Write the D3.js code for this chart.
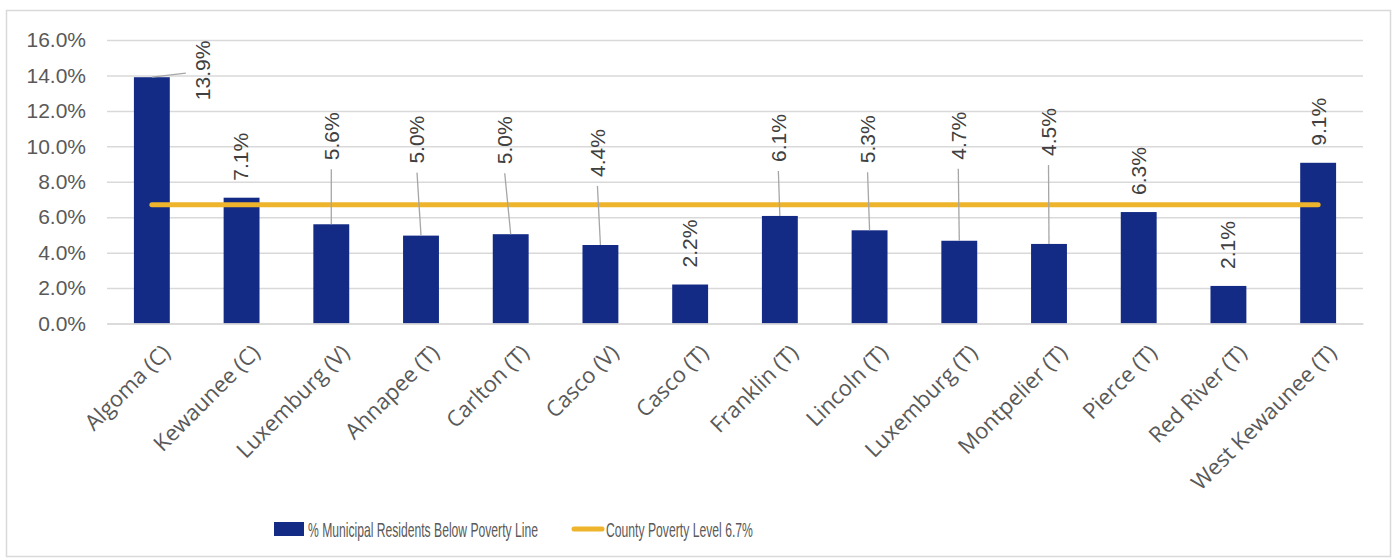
<!DOCTYPE html>
<html>
<head>
<meta charset="utf-8">
<script src="https://cdn.jsdelivr.net/npm/d3@7"></script>
<style>
  html, body { margin: 0; padding: 0; background: #fff; }
  svg { display: block; }
</style>
</head>
<body>
<div id="chart"></div>
<script>
    "use strict";

    // chart data
    var municipalities = ["Algoma (C)", "Kewaunee (C)", "Luxemburg (V)", "Ahnapee (T)", "Carlton (T)",
        "Casco (V)", "Casco (T)", "Franklin (T)", "Lincoln (T)", "Luxemburg (T)",
        "Montpelier (T)", "Pierce (T)", "Red River (T)", "West Kewaunee (T)"];
    var povertyPct = [13.9, 7.1, 5.6, 4.96, 5.04, 4.43, 2.2, 6.07, 5.26, 4.67, 4.49, 6.29, 2.12, 9.07];
    var countyLevel = 6.7;
    var yTicks = [0, 2, 4, 6, 8, 10, 12, 14, 16];
    var seriesNames = ["% Municipal Residents Below Poverty Line", "County Poverty Level 6.7%"];

    // manual data label nudges [dx, dy] in px, like the ones dragged in the original
    var labelNudge = [[51, 40], [-1, 0], [0, -47], [-4, -55], [-6, -53], [-3, -51], [-1, 0],
        [-1.5, -37], [-2, -50], [-1, -64], [-0.5, -71], [0, 0], [-1, 0], [0, 0]];

    var width = 1395,
        height = 560,
        plotLeft = 107, plotRight = 1363, plotTop = 40, plotBottom = 323.5;
    var barColor = "#142b86",
        lineColor = "#edb42c",
        textColor = "#595959",
        gridColor = "#d9d9d9";

    var svg = d3.select("#chart").append("svg")
        .attr("width", width)
        .attr("height", height);

    // chart border
    svg.append("rect")
        .attr("x", 6.5).attr("y", 10.5)
        .attr("width", 1384).attr("height", 546)
        .attr("fill", "#fff")
        .attr("stroke", gridColor)
        .attr("stroke-width", 1.5);

    var x = d3.scaleBand()
        .domain(municipalities)
        .range([plotLeft, plotRight])
        .paddingInner(0.6)
        .paddingOuter(0.3);
    var y = d3.scaleLinear()
        .domain([0, 16])
        .range([plotBottom, plotTop]);

    // gridlines
    svg.append("g")
        .attr("transform", "translate(" + plotLeft + ",0)")
        .call(d3.axisLeft(y).tickValues(yTicks).tickSize(-(plotRight - plotLeft)).tickFormat(""))
        .call(function (g) { g.select(".domain").remove(); })
        .selectAll("line")
        .attr("stroke", gridColor)
        .attr("stroke-width", 1.5);

    // y axis labels
    svg.append("g")
        .attr("transform", "translate(" + plotLeft + ",0)")
        .call(d3.axisLeft(y).tickValues(yTicks).tickSize(0).tickPadding(21)
            .tickFormat(function (d) { return d.toFixed(1) + "%"; }))
        .call(function (g) { g.select(".domain").remove(); })
        .selectAll("text")
        .attr("fill", textColor)
        .style("font-family", "'Liberation Sans', Arial, sans-serif")
        .style("font-size", "21px");

    // bars
    svg.append("g").selectAll("rect")
        .data(povertyPct)
        .enter()
        .append("rect")
        .attr("x", function (d, i) { return x(municipalities[i]); })
        .attr("y", function (d) { return y(d); })
        .attr("width", x.bandwidth())
        .attr("height", function (d) { return y(0) - y(d); })
        .attr("fill", barColor);

    // category axis
    var xAxis = svg.append("g")
        .attr("transform", "translate(0," + plotBottom + ")")
        .call(d3.axisBottom(x).tickSize(0));
    xAxis.select(".domain")
        .attr("stroke", gridColor)
        .attr("stroke-width", 1.5);
    xAxis.selectAll("text")
        .attr("fill", textColor)
        .style("font-family", "'Open Sans', Lato, sans-serif")
        .style("font-size", "22px")
        .style("text-anchor", "end")
        .attr("x", 0).attr("y", 0).attr("dy", "0.75em")
        .attr("transform", "translate(8,19) rotate(-45)");

    // county line
    var line = d3.line()
        .x(function (d) { return x(d) + x.bandwidth() / 2; })
        .y(function () { return y(countyLevel); });
    svg.append("path")
        .datum(municipalities)
        .attr("d", line)
        .attr("fill", "none")
        .attr("stroke", lineColor)
        .attr("stroke-width", 5)
        .attr("stroke-linecap", "round");

    // data labels + leader lines
    var labels = svg.append("g");
    povertyPct.forEach(function (d, i) {
        var cx = x(municipalities[i]) + x.bandwidth() / 2,
            barTop = y(d),
            lx = cx + labelNudge[i][0],
            lb = barTop - 17 + labelNudge[i][1];
        if (labelNudge[i][1] > 0) {
            labels.append("line")
                .attr("x1", cx).attr("y1", barTop)
                .attr("x2", lx - 17).attr("y2", barTop - 4)
                .attr("stroke", "#a6a6a6").attr("stroke-width", 1.3);
        } else if (labelNudge[i][1] < 0) {
            labels.append("line")
                .attr("x1", lx).attr("y1", lb + 9)
                .attr("x2", cx).attr("y2", barTop)
                .attr("stroke", "#a6a6a6").attr("stroke-width", 1.3);
        }
        labels.append("text")
            .attr("transform", "translate(" + lx + "," + lb + ") rotate(-90)")
            .attr("dy", "0.35em")
            .attr("fill", "#404040")
            .style("font-family", "'Liberation Sans', Arial, sans-serif")
            .style("font-size", "21px")
            .text(d.toFixed(1) + "%");
    });

    // legend (condensed text like the original, squeezed with scaleX)
    var legend = svg.append("g");
    legend.append("rect")
        .attr("x", 274).attr("y", 522)
        .attr("width", 30).attr("height", 14)
        .attr("fill", barColor);
    legend.append("line")
        .attr("x1", 574).attr("x2", 602)
        .attr("y1", 529).attr("y2", 529)
        .attr("stroke", lineColor)
        .attr("stroke-width", 5)
        .attr("stroke-linecap", "round");
    [[308, 230], [606, 147]].forEach(function (p, i) {
        var t = legend.append("text")
            .attr("dy", "0.36em")
            .attr("fill", textColor)
            .style("font-family", "'Liberation Sans', Arial, sans-serif")
            .style("font-size", "21px")
            .text(seriesNames[i]);
        var w = t.node().getComputedTextLength();
        t.attr("transform", "translate(" + p[0] + ",529) scale(" + (p[1] / w) + ",1)");
    });
</script>
</body>
</html>
